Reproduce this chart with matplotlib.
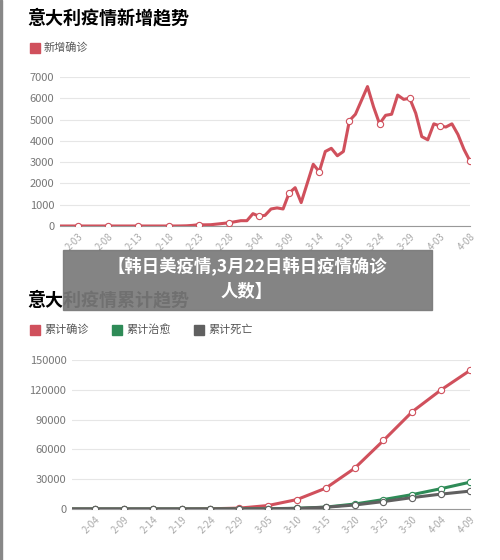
import numpy as np
import matplotlib.pyplot as plt
from matplotlib.patches import Rectangle

plt.rcParams['font.family'] = ['Noto Sans CJK SC', 'DejaVu Sans']

# daily new cases, 2020-01-31 .. 2020-04-08
new_cases = [0, 0, 0, 0, 0, 0, 0, 0, 0, 0,
             0, 0, 0, 0, 0, 0, 0, 0, 0, 0,
             3, 10, 30, 60, 55, 60, 90, 120, 150, 200,
             250, 250, 580, 460, 500, 800, 850, 800, 1550, 1800,
             1100, 2000, 2900, 2550, 3500, 3650, 3300, 3500, 4950, 5250,
             5900, 6550, 5600, 4800, 5200, 5250, 6150, 5950, 6000, 5300,
             4200, 4050, 4800, 4700, 4650, 4800, 4300, 3600, 3050]
new_ticks = ["2-03", "2-08", "2-13", "2-18", "2-23", "2-28", "3-04",
             "3-09", "3-14", "3-19", "3-24", "3-29", "4-03", "4-08"]

# cumulative, sampled every 5 days from 2020-01-31 (then 2-04 ... 4-09)
cum_days = [0, 4, 9, 14, 19, 24, 29, 34, 39, 44, 49, 54, 59, 64, 69]
cum_confirmed = [2, 3, 3, 3, 3, 230, 890, 3500, 9500, 21000, 41000, 69000, 98000, 120000, 139500]
cum_recovered = [0, 0, 0, 0, 0, 1, 46, 280, 720, 1900, 5000, 9500, 14500, 20500, 27000]
cum_deaths = [0, 0, 0, 0, 0, 7, 29, 150, 630, 1800, 4000, 7500, 11500, 15000, 18000]
cum_ticks = ["2-04", "2-09", "2-14", "2-19", "2-24", "2-29", "3-05",
             "3-10", "3-15", "3-20", "3-25", "3-30", "4-04", "4-09"]

RED = "#d0505c"
GREEN = "#2e8b57"
DARK = "#606060"
GRID = "#e6e6e6"
TXT = "#777777"

fig = plt.figure(figsize=(5, 5.6), dpi=100)


def style_axes(ax, yticks, ylabels, xticks, xlabels):
    ax.set_yticks(yticks)
    ax.set_yticklabels(ylabels, fontsize=8, color=TXT)
    ax.set_xticks(xticks)
    ax.set_xticklabels(xlabels, fontsize=7, color="#aaaaaa", rotation=45, ha="right",
                       rotation_mode="anchor")
    ax.grid(axis="y", color=GRID, lw=0.8)
    ax.set_axisbelow(True)
    for s in ["top", "right", "left"]:
        ax.spines[s].set_visible(False)
    ax.spines["bottom"].set_color("#999999")
    ax.tick_params(length=0, pad=4)


# top chart
ax1 = fig.add_axes([60 / 500, 1 - 226 / 560, 410 / 500, 149 / 560])
x1 = np.arange(len(new_cases))
ax1.plot(x1, new_cases, color=RED, lw=2.2, zorder=3)
mk = x1[3::5]
ax1.plot(mk, np.array(new_cases)[3::5], "o", ms=4.5, mfc="white", mec=RED, mew=0.8, zorder=4)
ax1.set_xlim(0, len(new_cases) - 1)
ax1.set_ylim(0, 7000)
style_axes(ax1, range(0, 7001, 1000), [str(v) for v in range(0, 7001, 1000)], mk, new_ticks)

# bottom chart
ax2 = fig.add_axes([72 / 500, 1 - 509 / 560, 398 / 500, 149 / 560])
for vals, c in [(cum_confirmed, RED), (cum_recovered, GREEN), (cum_deaths, DARK)]:
    ax2.plot(cum_days, vals, color=c, lw=2.2, zorder=3)
    ax2.plot(cum_days[1:], vals[1:], "o", ms=4.5, mfc="white", mec=c, mew=0.8, zorder=4)
ax2.set_xlim(0, 69)
ax2.set_ylim(0, 150000)
style_axes(ax2, range(0, 150001, 30000), [str(v) for v in range(0, 150001, 30000)],
           cum_days[1:], cum_ticks)

# titles and legends
fig.text(27 / 500, 1 - 18 / 560, "意大利疫情新增趋势", fontsize=13, fontweight="bold", va="center")
fig.text(27 / 500, 1 - 300 / 560, "意大利疫情累计趋势", fontsize=13, fontweight="bold", va="center")


def legend_item(x, y, label, color):
    fig.patches.append(Rectangle((x / 500, 1 - (y + 5) / 560), 10 / 500, 10 / 560,
                                 transform=fig.transFigure, color=color))
    fig.text((x + 14) / 500, 1 - y / 560, label, fontsize=8, color="#555555", va="center")


legend_item(30, 48, "新增确诊", RED)
legend_item(30, 330, "累计确诊", RED)
legend_item(112, 330, "累计治愈", GREEN)
legend_item(194, 330, "累计死亡", DARK)

# banner overlay
fig.patches.append(Rectangle((63 / 500, 1 - 310 / 560), 369 / 500, 60 / 560,
                             transform=fig.transFigure, color="#7a7a7a", alpha=0.92, zorder=10))
fig.text(247 / 500, 1 - 266 / 560, "【韩日美疫情,3月22日韩日疫情确诊", fontsize=12.5,
         fontweight="bold", color="white", ha="center", va="center", zorder=11)
fig.text(247 / 500, 1 - 292 / 560, "人数】", fontsize=12.5,
         fontweight="bold", color="white", ha="center", va="center", zorder=11)

fig.patches.append(Rectangle((0, 0), 2 / 500, 1, transform=fig.transFigure, color="#888888"))

fig.savefig("out.png", dpi=100)
